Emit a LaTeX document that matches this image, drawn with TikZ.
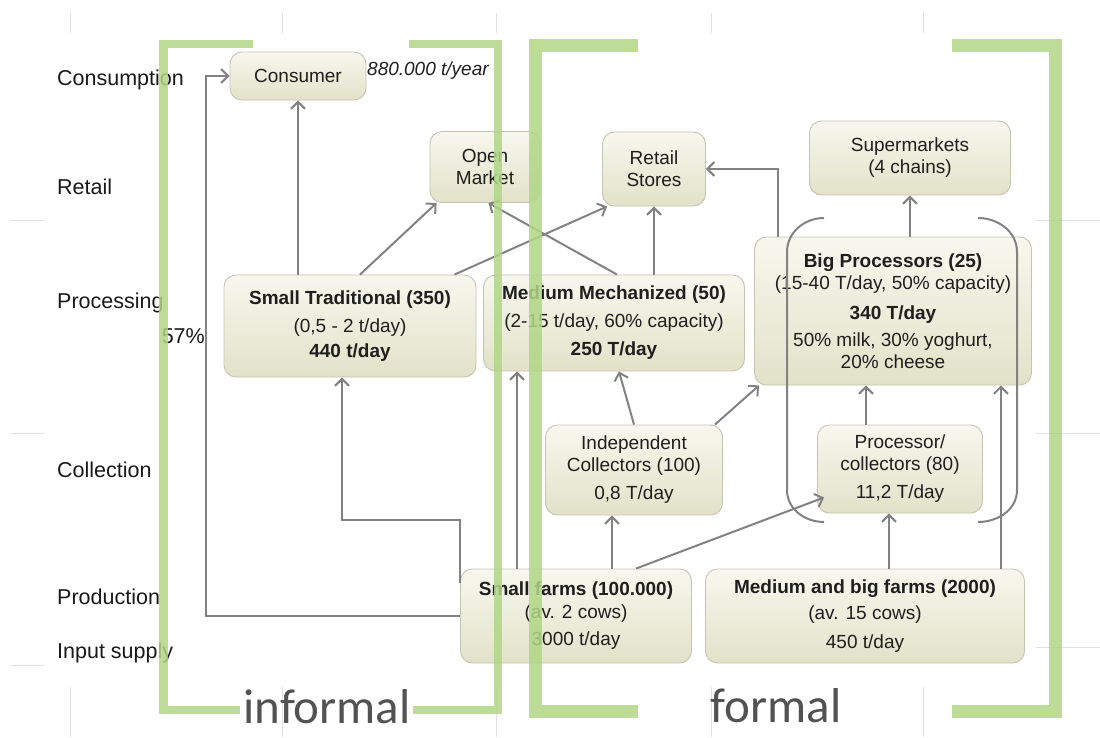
\documentclass[tikz,border=0pt]{standalone}
\usepackage{fontspec}
\setmainfont{Liberation Sans}
\newfontfamily\bracketfont{Carlito}
\usetikzlibrary{shapes.geometric, arrows.meta}

\definecolor{boxtop}{RGB}{247,247,238}
\definecolor{boxbottom}{RGB}{226,226,201}
\definecolor{boxline}{RGB}{196,196,178}
\definecolor{flowgray}{RGB}{130,130,130}
\definecolor{bracketgreen}{RGB}{176,214,134}
\definecolor{gridgray}{RGB}{224,224,224}

\tikzstyle{stage} = [
    rectangle,
    rounded corners=12pt,
    inner sep=0pt,
    align=center,
    draw=boxline,
    line width=0.9pt,
    top color=boxtop,
    bottom color=boxbottom,
    text=black!88,
    font=\fontsize{19}{22}\selectfont
]
\tikzstyle{stagelabel} = [
    anchor=west,
    inner sep=0pt,
    text=black!90,
    font=\fontsize{21.5}{24}\selectfont
]
\tikzstyle{arrow} = [line width=2pt, draw=flowgray, ->, >={Straight Barb[length=7pt,width=14pt,line width=2pt]}]
\tikzstyle{parenline} = [line width=2pt, draw=flowgray]
\tikzstyle{informalline} = [line width=8.5pt, draw=bracketgreen, opacity=0.85]
\tikzstyle{formalline} = [line width=13pt, draw=bracketgreen, opacity=0.85]
\tikzstyle{sector} = [inner sep=0pt, text=black!68, font=\bracketfont\fontsize{49}{52}\selectfont]
\tikzstyle{gridtick} = [line width=0.8pt, draw=gridgray]

\begin{document}
\begin{tikzpicture}[x=1pt, y=-1pt]

\useasboundingbox (0,0) rectangle (1100,737);

% faint slide grid
\foreach \gx in {70,282,496,711,923} {
    \draw [gridtick] (\gx,13) -- (\gx,33);
    \draw [gridtick] (\gx,687) -- (\gx,737);
}
\foreach \gy in {220,433,665} \draw [gridtick] (10,\gy) -- (44,\gy);
\foreach \gy in {220,433,647} \draw [gridtick] (1036,\gy) -- (1100,\gy);

% stages of the chain
\node (consumption) [stagelabel] at (57,80) {Consumption};
\node (retailrow) [stagelabel] at (57,187) {Retail};
\node (processing) [stagelabel] at (57,303) {Processing};
\node (share) [stagelabel, anchor=east] at (205,336) {57\%};
\node (collection) [stagelabel] at (57,470) {Collection};
\node (production) [stagelabel] at (57,597) {Production};
\node (inputsupply) [stagelabel] at (57,653) {Input supply};

\node (consumer) [stage, minimum width=136pt, minimum height=48pt] at (298,76)
{Consumer};

\node (volume) [anchor=west, inner sep=0pt, text=black!88, font=\fontsize{19}{22}\selectfont\itshape] at (367,71)
{880.000 t/year};

\node (openmkt) [stage, minimum width=110pt, minimum height=71pt] at (485,167)
{Open\\Market};

\node (retail) [stage, minimum width=103pt, minimum height=74pt] at (654,169)
{Retail\\Stores};

\node (superm) [stage, minimum width=201pt, minimum height=74pt] at (910,158)
{Supermarkets\\(4 chains)};

\node (smalltrad) [stage, minimum width=252pt, minimum height=102pt] at (350,326)
{\textbf{Small Traditional (350)}\\[6pt](0,5 - 2 t/day)\\[3pt]\textbf{440 t/day}};

\node (medmech) [stage, minimum width=261pt, minimum height=96pt] at (614,323)
{\textbf{Medium Mechanized (50)}\\[6pt](2-15 t/day, 60\% capacity)\\[6pt]\textbf{250 T/day}};

\node (bigproc) [stage, minimum width=277pt, minimum height=148pt] at (893,311)
{\textbf{Big Processors (25)}\\(15-40 T/day, 50\% capacity)\\[8pt]\textbf{340 T/day}\\[5pt]50\% milk, 30\% yoghurt,\\20\% cheese};

\node (indcoll) [stage, minimum width=177pt, minimum height=90pt] at (634,470)
{Independent\\Collectors (100)\\[6pt]0,8 T/day};

\node (proccoll) [stage, minimum width=165pt, minimum height=88pt] at (900,469)
{Processor/\\collectors (80)\\[6pt]11,2 T/day};

\node (smallfarm) [stage, minimum width=231pt, minimum height=94pt] at (576,616)
{\textbf{Small farms (100.000)}\\[1pt](av. 2 cows)\\[5pt]3000 t/day};

\node (mbfarm) [stage, minimum width=319pt, minimum height=94pt] at (865,616)
{\textbf{Medium and big farms (2000)}\\[4pt](av. 15 cows)\\[7pt]450 t/day};

\coordinate (consumerin) at (206,76);

\draw [arrow] (smallfarm.west) -| (consumerin) -- (consumer.west);
\draw [arrow] (consumer.south |- smalltrad.north) -- (consumer.south);
\draw [arrow] ([xshift=10pt]smalltrad.north) -- ([xshift=7pt]openmkt.south west);
\draw [arrow] ([xshift=-22pt]smalltrad.north east) -- ([xshift=5pt]retail.south west);
\draw [arrow] ([xshift=3pt]medmech.north) -- ([xshift=-52pt]openmkt.south east);
\draw [arrow] (retail.south |- medmech.north) -- (retail.south);
\draw [arrow] ([xshift=24pt]bigproc.north west) |- (retail.east);
\draw [arrow] (superm.south |- bigproc.north) -- (superm.south);
\draw [arrow] (indcoll.north) -- ([xshift=5pt]medmech.south);
\draw [arrow] ([xshift=-8pt]indcoll.north east) -- ([xshift=5pt]bigproc.south west);
\draw [arrow] ([xshift=-34pt]proccoll.north) coordinate (pcup) -- (pcup |- bigproc.south);
\draw [arrow] ([xshift=24pt]mbfarm.north) coordinate (mbmid) -- (mbmid |- proccoll.south);
\draw [arrow] ([xshift=-24pt]mbfarm.north east) coordinate (mbright) -- (mbright |- bigproc.south);
\draw [arrow] ([xshift=36pt]smallfarm.north) coordinate (sfmid) -- (sfmid |- indcoll.south);
\draw [arrow] ([xshift=-59pt]smallfarm.north) coordinate (sfleft) -- (sfleft |- medmech.south);
\draw [arrow] ([xshift=60pt]smallfarm.north) -- ([xshift=7pt,yshift=16pt]proccoll.south west);
\draw [arrow] ([yshift=-14pt]smallfarm.north west) -- ++(0,-63) -| ([xshift=-8pt]smalltrad.south);

% round brackets around the formal processors
\draw [parenline] (824,218) to[out=180,in=90] (787,252) -- (787,490) to[out=-90,in=180] (824,522);
\draw [parenline] (978,218) to[out=0,in=90] (1017,252) -- (1017,490) to[out=-90,in=0] (978,522);

% green brackets
\draw [informalline] (253,44) -- (163.5,44) -- (163.5,710) -- (240,710);
\draw [informalline] (413,710) -- (498,710) -- (498,44) -- (409,44);
\draw [formalline] (638,45) -- (535,45) -- (535,711) -- (638,711);
\draw [formalline] (952,45) -- (1055,45) -- (1055,711) -- (952,711);

\node (informal) [sector, anchor=base] at (327,723) {informal};
\node (formal) [sector, anchor=base] at (776,722) {formal};

\end{tikzpicture}
\end{document}
